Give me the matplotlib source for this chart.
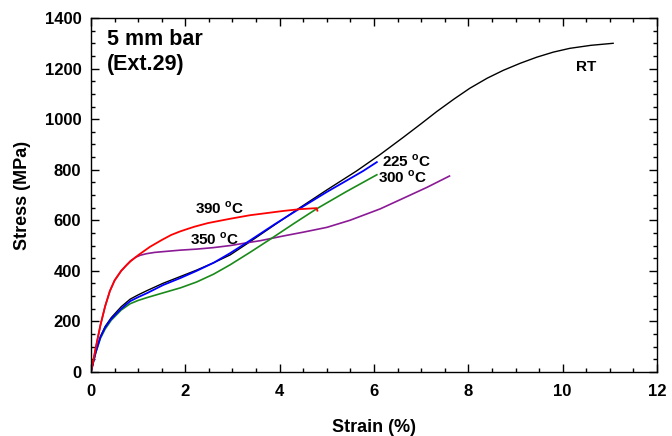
import matplotlib
matplotlib.use("Agg")
import matplotlib.pyplot as plt
from matplotlib.ticker import MultipleLocator

plt.rcParams["font.family"] = ["Liberation Sans", "DejaVu Sans"]
plt.rcParams["font.weight"] = "bold"
plt.rcParams["mathtext.fontset"] = "custom"
plt.rcParams["mathtext.bf"] = "Liberation Sans:bold"
plt.rcParams["mathtext.rm"] = "Liberation Sans:bold"

# RT
rt_strain = [0, 0.05, 0.1, 0.2, 0.3, 0.43, 0.64, 0.83, 1.0, 1.2, 1.53, 1.9, 2.24, 2.6, 2.95,
             3.37, 3.8, 4.43, 5.0, 5.63, 6.13, 6.62, 7.0, 7.33, 7.7, 8.03, 8.4, 8.74,
             9.1, 9.45, 9.8, 10.15, 10.6, 11.07]
rt_stress = [0, 40, 78, 140, 180, 215, 258, 288, 305, 323, 351, 378, 403, 432, 463,
             515, 570, 650, 720, 795, 860, 928, 982, 1030, 1080, 1122, 1162, 1193,
             1221, 1245, 1265, 1280, 1292, 1300]

# 225 C
t225_strain = [0, 0.05, 0.1, 0.2, 0.3, 0.43, 0.64, 0.83, 1.0, 1.2, 1.53, 1.9, 2.24, 2.6,
               2.95, 3.37, 3.9, 4.43, 5.0, 5.4, 5.77, 6.06]
t225_stress = [0, 40, 78, 138, 176, 210, 250, 280, 296, 313, 344, 372, 400, 432,
               470, 520, 585, 647, 712, 755, 795, 830]

# 300 C
t300_strain = [0, 0.05, 0.1, 0.2, 0.3, 0.43, 0.64, 0.83, 1.0, 1.2, 1.53, 1.9, 2.24, 2.6,
               2.95, 3.37, 3.8, 4.3, 4.78, 5.4, 6.06]
t300_stress = [0, 40, 76, 133, 170, 205, 245, 270, 283, 295, 313, 333, 356, 387,
               424, 473, 525, 587, 645, 712, 780]

# 350 C
t350_strain = [0, 0.05, 0.1, 0.2, 0.3, 0.4, 0.5, 0.64, 0.75, 0.83, 0.95, 1.05, 1.18, 1.35,
               1.53, 1.9, 2.24, 2.6, 2.95, 3.37, 3.58, 4.08, 4.5, 5.0, 5.49, 6.13, 6.62,
               7.12, 7.6]
t350_stress = [0, 45, 95, 185, 260, 320, 362, 400, 422, 438, 454, 462, 468, 473,
               476, 482, 486, 492, 500, 513, 519, 538, 553, 572, 600, 645, 687,
               730, 775]

# 390 C
t390_strain = [0, 0.05, 0.1, 0.2, 0.3, 0.4, 0.5, 0.64, 0.75, 0.85, 1.0, 1.25, 1.5, 1.7,
               1.89, 2.05, 2.2, 2.48, 2.95, 3.37, 4.08, 4.43, 4.78, 4.8]
t390_stress = [0, 45, 95, 185, 260, 320, 362, 400, 422, 440, 462, 495, 522, 542,
               556, 566, 575, 589, 606, 620, 637, 644, 648, 638]

fig = plt.figure(figsize=(6.72, 4.36), dpi=100)
ax = fig.add_axes([0.1354, 0.1468, 0.8423, 0.8119])

ax.plot(rt_strain, rt_stress, color="black", lw=1.0)
ax.plot(t350_strain, t350_stress, color="#8b1a96", lw=1.2)
ax.plot(t300_strain, t300_stress, color="#1a8a1a", lw=1.2)
ax.plot(t225_strain, t225_stress, color="#0000ff", lw=1.3)
ax.plot(t390_strain, t390_stress, color="#ff0000", lw=1.3)

lab = dict(fontsize=11, fontweight="bold")
ax.text(10.5, 1208, "RT", ha="center", va="center", **lab)
ax.text(6.17, 834, r"225 $^{\mathbf{o}}$C", ha="left", va="center", **lab)
ax.text(6.08, 771, r"300 $^{\mathbf{o}}$C", ha="left", va="center", **lab)
ax.text(2.2, 648, r"390 $^{\mathbf{o}}$C", ha="left", va="center", **lab)
ax.text(2.1, 526, r"350 $^{\mathbf{o}}$C", ha="left", va="center", **lab)
ax.text(0.34, 1355, "5 mm bar\n(Ext.29)", ha="left", va="top",
        fontsize=15.5, fontweight="bold", linespacing=1.2)

ax.set_xlim(0, 12)
ax.set_ylim(0, 1400)
ax.xaxis.set_major_locator(MultipleLocator(2))
ax.xaxis.set_minor_locator(MultipleLocator(0.5))
ax.yaxis.set_major_locator(MultipleLocator(200))
ax.yaxis.set_minor_locator(MultipleLocator(50))
ax.tick_params(which="both", direction="in", top=True, right=True, labelsize=12, width=1.0)
ax.tick_params(axis="x", which="major", length=6, pad=9)
ax.tick_params(axis="y", which="major", length=6, pad=7)
ax.tick_params(which="minor", length=3)
for lbl in ax.get_xticklabels() + ax.get_yticklabels():
    lbl.set_fontweight("bold")
for s in ax.spines.values():
    s.set_linewidth(1.0)

ax.set_xlabel("Strain (%)", fontsize=13, fontweight="bold", labelpad=14)
ax.set_ylabel("Stress (MPa)", fontsize=13, fontweight="bold", labelpad=10)

fig.savefig("out.png", dpi=100)
